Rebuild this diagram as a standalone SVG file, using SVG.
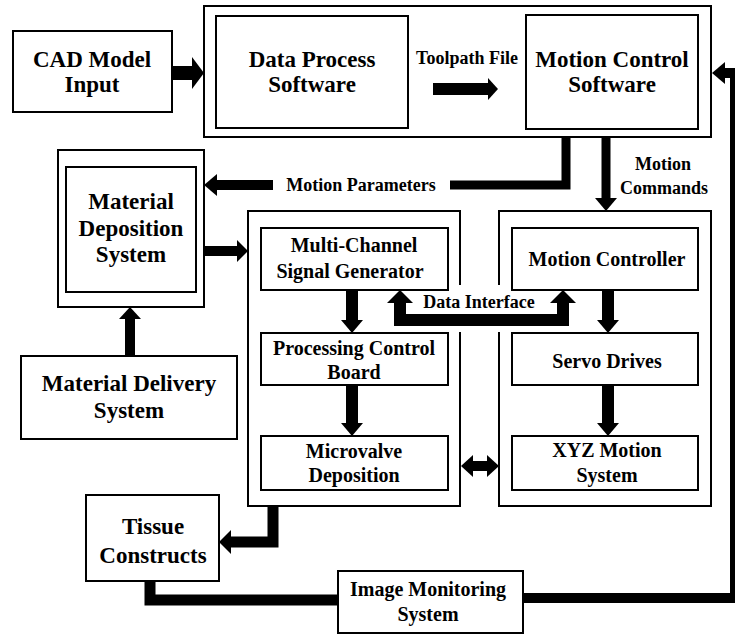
<svg xmlns="http://www.w3.org/2000/svg" width="735" height="634" viewBox="0 0 735 634">
<style>
.box{fill:none;stroke:#000;stroke-width:2}
.t{font-family:"Liberation Serif","Times New Roman",serif;font-weight:bold;fill:#000;text-anchor:middle}
.L{font-size:23px}
.M{font-size:20px}
.S{font-size:18px}
.w{fill:none;stroke:#000;stroke-linejoin:miter;stroke-linecap:butt}
.h{fill:#000}
</style>
<rect x="0" y="0" width="735" height="634" fill="#fff"/>

<g id="connectors">
  <path class="w" stroke-width="14" d="M172,73 H192"/>
  <polygon class="h" points="192,57 204,73 192,89"/>
  <path class="w" stroke-width="12" d="M433,89 H488"/>
  <polygon class="h" points="488,78 498,89 488,100"/>
  <path class="w" stroke-width="9" d="M566,137 V185 H450"/>
  <path class="w" stroke-width="10" d="M273,185 H216"/>
  <polygon class="h" points="217,174 204,185 217,196"/>
  <path class="w" stroke-width="9" d="M606,137 V199"/>
  <polygon class="h" points="595,198 606,211 617,198"/>
  <path class="w" stroke-width="10" d="M204,251 H238"/>
  <polygon class="h" points="237,240 248,251 237,262"/>
  <path class="w" stroke-width="10" d="M130,356 V318"/>
  <polygon class="h" points="119,319 130,307 141,319"/>
  <path class="w" stroke-width="12" d="M352,290 V321"/>
  <polygon class="h" points="341,320 352,333 363,320"/>
  <path class="w" stroke-width="12" d="M352,385 V424"/>
  <polygon class="h" points="341,423 352,436 363,423"/>
  <path class="w" stroke-width="12" d="M608,290 V321"/>
  <polygon class="h" points="597,320 608,333 619,320"/>
  <path class="w" stroke-width="12" d="M608,385 V424"/>
  <polygon class="h" points="597,423 608,436 619,423"/>
  <path class="w" stroke-width="12" d="M400,302 V320 H563 V302"/>
  <polygon class="h" points="387,303 400,290 413,303"/>
  <polygon class="h" points="550,303 563,290 576,303"/>
  <path class="w" stroke-width="10" d="M472,466 H488"/>
  <polygon class="h" points="473,455 461,466 473,477"/>
  <polygon class="h" points="487,455 499,466 487,477"/>
  <path class="w" stroke-width="11" d="M273,506 V542 H230"/>
  <polygon class="h" points="231,530 219,542 231,554"/>
  <path class="w" stroke-width="11" d="M150,581 V600 H338"/>
  <path class="w" stroke-width="10" d="M523,598 H735 V73 H724"/>
  <polygon class="h" points="725,62 712,73 725,84"/>
</g>

<g id="software-group">
  <rect class="box" x="204" y="6" width="507" height="131"/>
</g>
<g id="cad">
  <rect class="box" x="13" y="31" width="159" height="81"/>
  <text class="t L" x="92" y="67">CAD Model</text>
  <text class="t L" x="92" y="92">Input</text>
</g>
<g id="data-process">
  <rect class="box" x="216" y="16" width="192" height="112"/>
  <text class="t L" x="312" y="67">Data Process</text>
  <text class="t L" x="312" y="92">Software</text>
</g>
<g id="toolpath-label">
  <text class="t S" x="467" y="64">Toolpath File</text>
</g>
<g id="motion-control">
  <rect class="box" x="526" y="15" width="172" height="114"/>
  <text class="t L" x="612" y="67">Motion Control</text>
  <text class="t L" x="612" y="92">Software</text>
</g>
<g id="labels">
  <text class="t S" x="361" y="191">Motion Parameters</text>
  <text class="t S" x="663" y="170">Motion</text>
  <text class="t S" x="664" y="194">Commands</text>
  <text class="t S" x="479" y="308">Data Interface</text>
</g>
<g id="material-deposition">
  <rect class="box" x="58" y="150" width="146" height="157"/>
  <rect class="box" x="66" y="167" width="130" height="125"/>
  <text class="t L" x="131" y="209">Material</text>
  <text class="t L" x="131" y="236">Deposition</text>
  <text class="t L" x="131" y="262">System</text>
</g>
<g id="material-delivery">
  <rect class="box" x="21" y="356" width="216" height="83"/>
  <text class="t L" x="129" y="391">Material Delivery</text>
  <text class="t L" x="129" y="418">System</text>
</g>
<g id="left-column">
  <path class="box" d="M460,285 V211 H248 V506 H460 V332"/>
</g>
<g id="signal-generator">
  <rect class="box" x="261" y="228" width="187" height="62"/>
  <text class="t M" x="354" y="252">Multi-Channel</text>
  <text class="t M" x="350" y="278">Signal Generator</text>
</g>
<g id="processing-board">
  <rect class="box" x="261" y="333" width="187" height="52"/>
  <text class="t M" x="354" y="355">Processing Control</text>
  <text class="t M" x="354" y="379">Board</text>
</g>
<g id="microvalve">
  <rect class="box" x="261" y="436" width="187" height="54"/>
  <text class="t M" x="354" y="458">Microvalve</text>
  <text class="t M" x="354" y="482">Deposition</text>
</g>
<g id="right-column">
  <path class="box" d="M499,285 V211 H711 V506 H499 V332"/>
</g>
<g id="motion-controller">
  <rect class="box" x="512" y="228" width="186" height="62"/>
  <text class="t M" x="607" y="266">Motion Controller</text>
</g>
<g id="servo-drives">
  <rect class="box" x="512" y="333" width="186" height="52"/>
  <text class="t M" x="607" y="368">Servo Drives</text>
</g>
<g id="xyz">
  <rect class="box" x="512" y="436" width="186" height="54"/>
  <text class="t M" x="607" y="457">XYZ Motion</text>
  <text class="t M" x="607" y="482">System</text>
</g>
<g id="tissue">
  <rect class="box" x="86" y="495" width="133" height="86"/>
  <text class="t L" x="153" y="534">Tissue</text>
  <text class="t L" x="153" y="563">Constructs</text>
</g>
<g id="image-monitoring">
  <rect class="box" x="338" y="571" width="185" height="62"/>
  <text class="t M" x="428" y="596">Image Monitoring</text>
  <text class="t M" x="428" y="621">System</text>
</g>
</svg>
